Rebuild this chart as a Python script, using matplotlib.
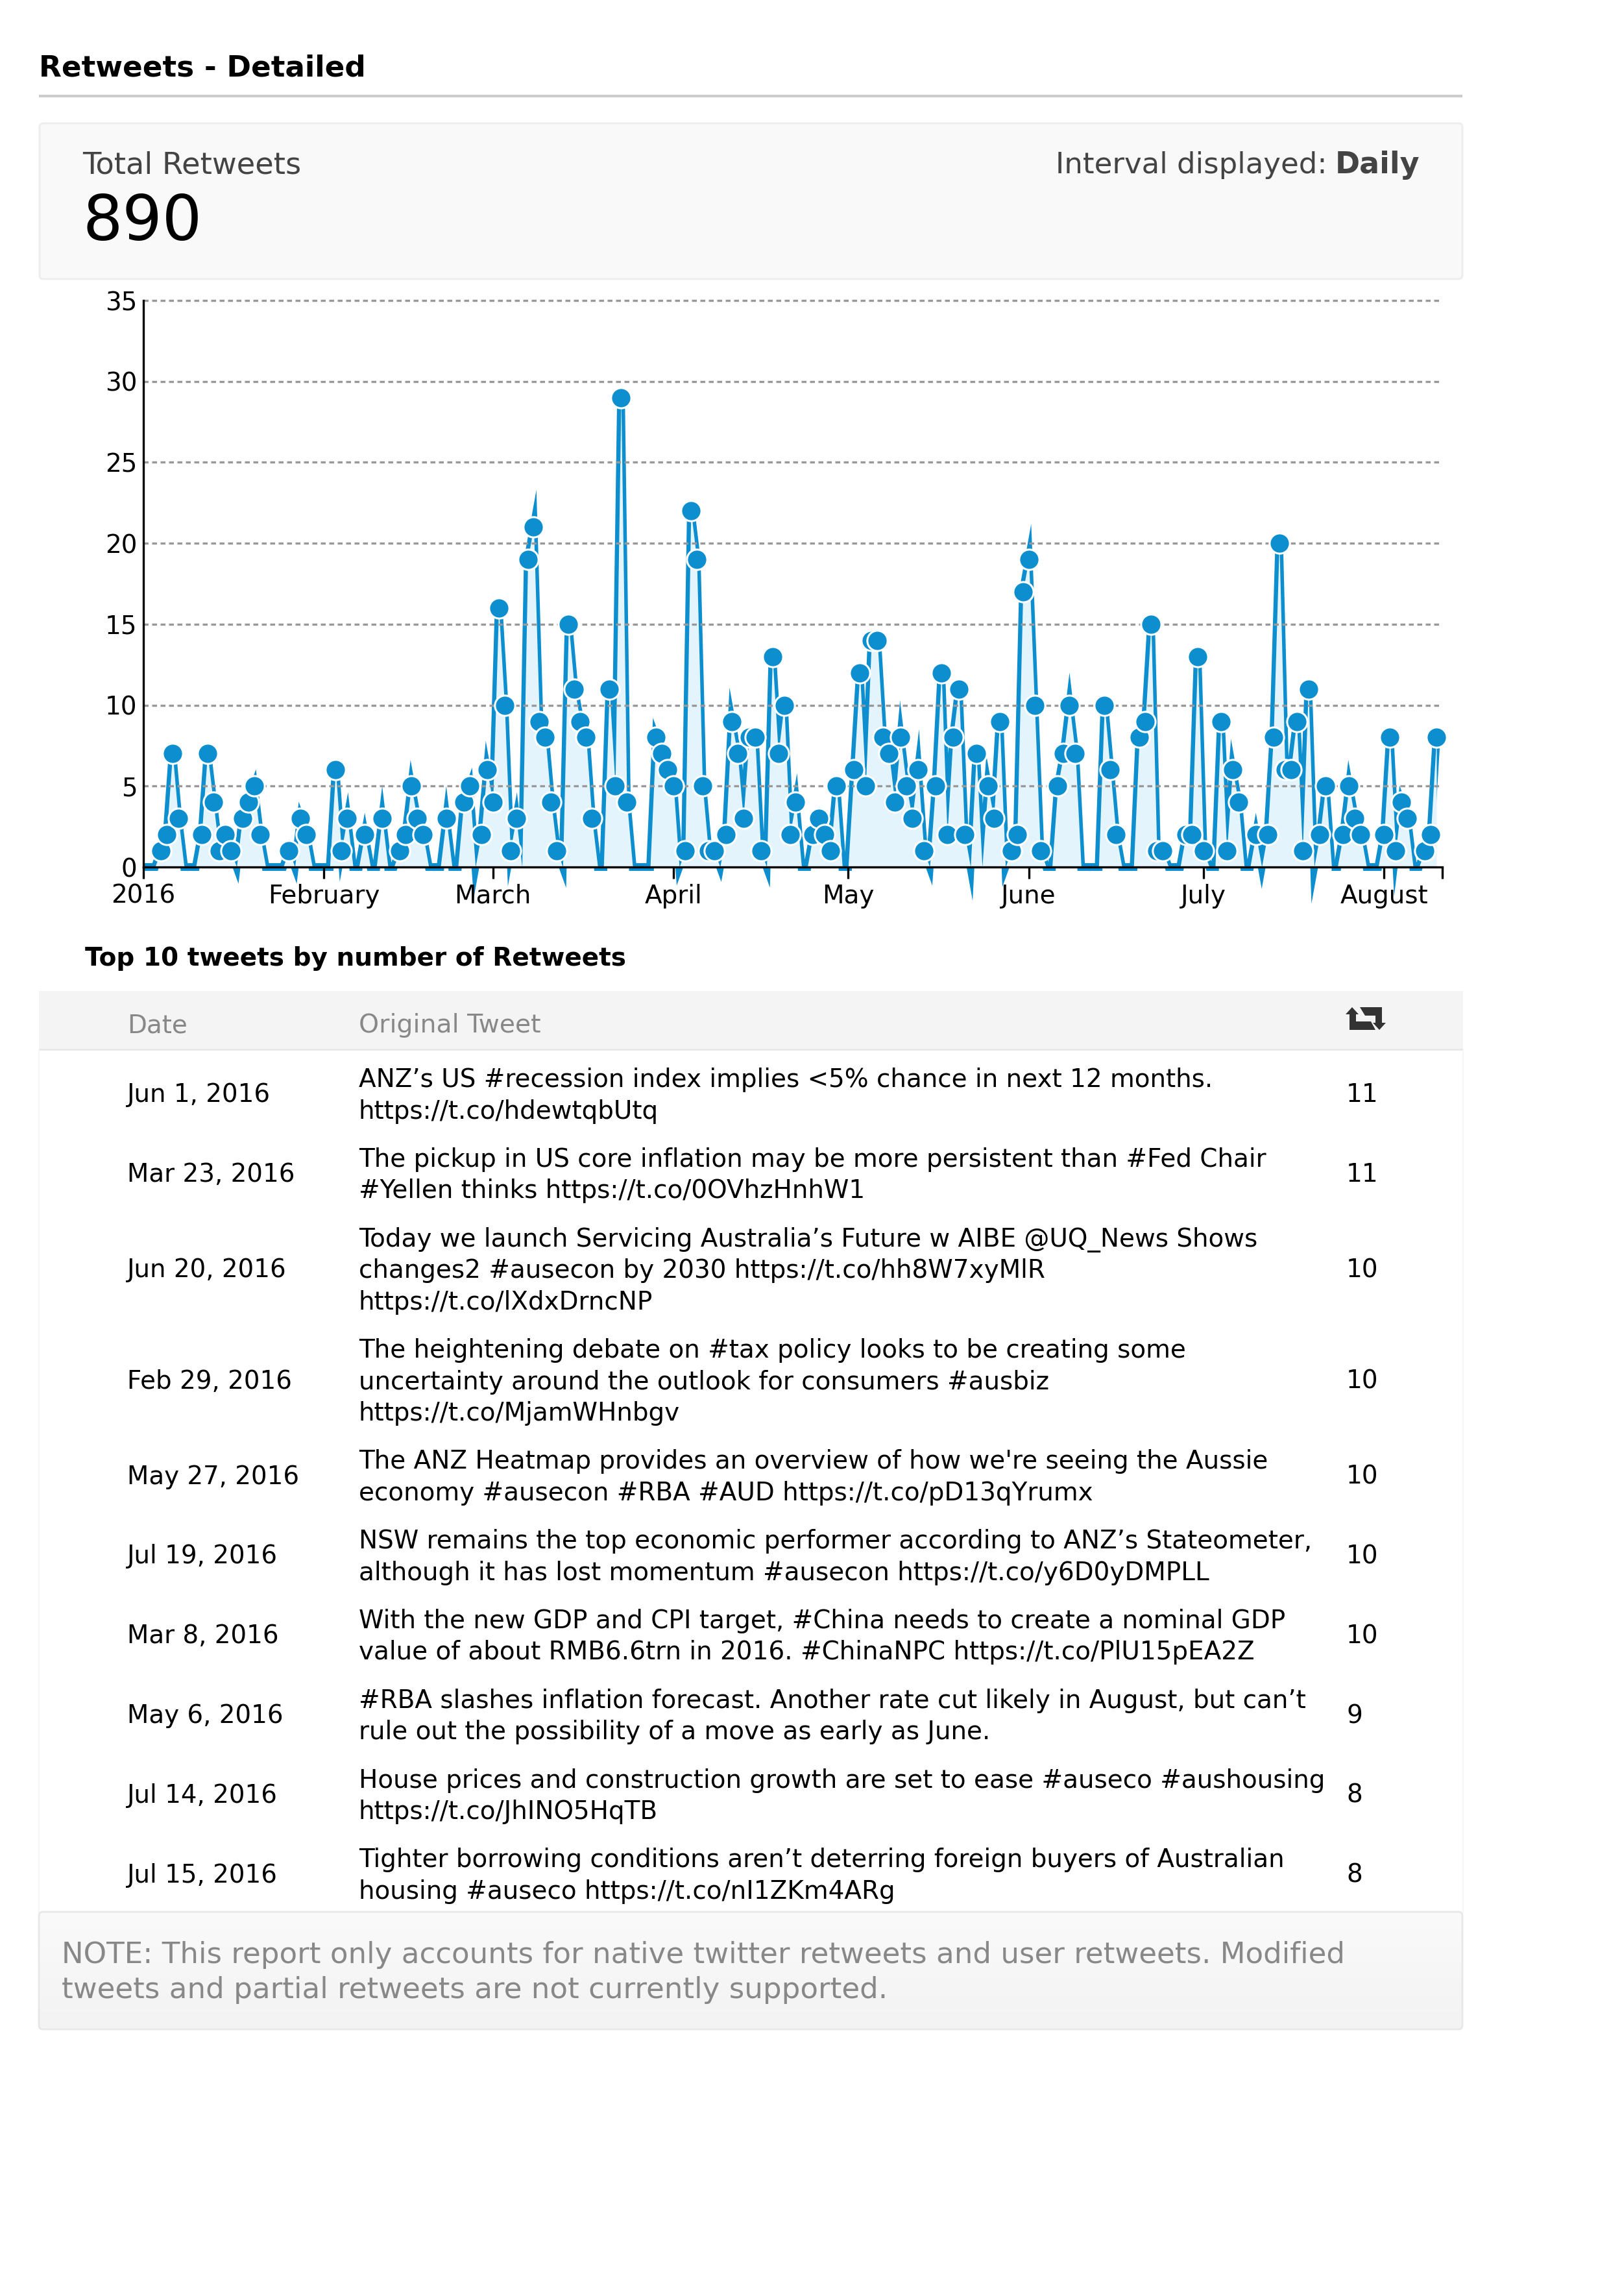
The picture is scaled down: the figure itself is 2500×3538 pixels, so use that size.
import matplotlib
matplotlib.use('Agg')
import matplotlib.pyplot as plt
from matplotlib.patches import FancyBboxPatch, Rectangle, Polygon
import numpy as np
import datetime as dt

plt.rcParams['font.family'] = ['DejaVu Sans']

W, H = 2500, 3538
DPI = 100

# daily retweets, from 2016-01-01
retweets = [0, 0, 0, 1, 2, 7, 3, 0, 0, 0, 2, 7, 4, 1, 2, 1, 0, 3, 4, 5, 2,
            0, 0, 0, 0, 1, 0, 3, 2, 0, 0, 0, 0, 6, 1, 3, 0, 0, 2, 0, 0, 3,
            0, 0, 1, 2, 5, 3, 2, 0, 0, 0, 3, 0, 0, 4, 5, 0, 2, 6, 4, 16, 10,
            1, 3, 0, 19, 21, 9, 8, 4, 1, 0, 15, 11, 9, 8, 3, 0, 0, 11, 5, 29,
            4, 0, 0, 0, 0, 8, 7, 6, 5, 0, 1, 22, 19, 5, 1, 1, 0, 2, 9, 7, 3,
            8, 8, 1, 0, 13, 7, 10, 2, 4, 0, 0, 2, 3, 2, 1, 5, 0, 0, 6, 12,
            5, 14, 14, 8, 7, 4, 8, 5, 3, 6, 1, 0, 5, 12, 2, 8, 11, 2, 0, 7, 0,
            5, 3, 9, 0, 1, 2, 17, 19, 10, 1, 0, 0, 5, 7, 10, 7, 0, 0, 0, 0, 10,
            6, 2, 0, 0, 0, 8, 9, 15, 1, 1, 0, 0, 0, 2, 2, 13, 1, 0, 0, 9, 1, 6,
            4, 0, 0, 2, 0, 2, 8, 20, 6, 6, 9, 1, 11, 0, 2, 5, 0, 0, 2, 5, 3, 2,
            0, 0, 0, 2, 8, 1, 4, 3, 0, 0, 1, 2, 8]
start_date = dt.date(2016, 1, 1)
month_ticks = [dt.date(2016, m, 1) for m in range(1, 9)]
month_labels = ['2016', 'February', 'March', 'April', 'May', 'June', 'July', 'August']
end_date = dt.date(2016, 8, 11)
y_ticks = [0, 5, 10, 15, 20, 25, 30, 35]

tweet_dates = ['Jun 1, 2016', 'Mar 23, 2016', 'Jun 20, 2016', 'Feb 29, 2016', 'May 27, 2016',
               'Jul 19, 2016', 'Mar 8, 2016', 'May 6, 2016', 'Jul 14, 2016', 'Jul 15, 2016']
tweet_counts = [11, 11, 10, 10, 10, 10, 10, 9, 8, 8]
tweet_texts = [
    ['ANZ\u2019s US #recession index implies <5% chance in next 12 months.', 'https://t.co/hdewtqbUtq'],
    ['The pickup in US core inflation may be more persistent than #Fed Chair', '#Yellen thinks https://t.co/0OVhzHnhW1'],
    ['Today we launch Servicing Australia\u2019s Future w AIBE @UQ_News Shows', 'changes2 #ausecon by 2030 https://t.co/hh8W7xyMlR', 'https://t.co/lXdxDrncNP'],
    ['The heightening debate on #tax policy looks to be creating some', 'uncertainty around the outlook for consumers #ausbiz', 'https://t.co/MjamWHnbgv'],
    ['The ANZ Heatmap provides an overview of how we\'re seeing the Aussie', 'economy #ausecon #RBA #AUD https://t.co/pD13qYrumx'],
    ['NSW remains the top economic performer according to ANZ\u2019s Stateometer,', 'although it has lost momentum #ausecon https://t.co/y6D0yDMPLL'],
    ['With the new GDP and CPI target, #China needs to create a nominal GDP', 'value of about RMB6.6trn in 2016. #ChinaNPC https://t.co/PlU15pEA2Z'],
    ['#RBA slashes inflation forecast. Another rate cut likely in August, but can\u2019t', 'rule out the possibility of a move as early as June.'],
    ['House prices and construction growth are set to ease #auseco #aushousing', 'https://t.co/JhINO5HqTB'],
    ['Tighter borrowing conditions aren\u2019t deterring foreign buyers of Australian', 'housing #auseco https://t.co/nI1ZKm4ARg'],
]
note_lines = ['NOTE: This report only accounts for native twitter retweets and user retweets. Modified',
              'tweets and partial retweets are not currently supported.']

BLUE = '#0d8ecf'
FILL = '#e4f4fd'

fig = plt.figure(figsize=(W / DPI, H / DPI), dpi=DPI, facecolor='white')

# page layer in pixel coordinates, for everything that is not the chart
page = fig.add_axes([0, 0, 1, 1])
page.set_xlim(0, W)
page.set_ylim(H, 0)
page.axis('off')


def box(x0, y0, x1, y1, face, edge='#eeeeee', lw=2.2):
    page.add_patch(FancyBboxPatch((x0 + 6, y0 + 6), x1 - x0 - 12, y1 - y0 - 12,
                                  boxstyle='round,pad=6,rounding_size=6',
                                  fc=face, ec=edge, lw=lw))


page.text(60, 117, 'Retweets - Detailed', fontsize=32.6, fontweight='bold', color='black')
page.plot([60, 2254], [148, 148], color='#cccccc', lw=3, solid_capstyle='butt')

box(61, 190, 2254, 430, '#f9f9f9')
page.text(127, 267, 'Total Retweets', fontsize=33.4, color='#444444')
page.text(127, 370, '890', fontsize=69.5, color='black')
daily = page.text(2188, 267, 'Daily', fontsize=33, fontweight='bold', color='#444444', ha='right')
fig.canvas.draw()
daily_x = daily.get_window_extent().x0
page.text(daily_x - 12, 267, 'Interval displayed:', fontsize=32.4, color='#444444', ha='right')

page.text(131, 1488, 'Top 10 tweets by number of Retweets', fontsize=28.1, fontweight='bold', color='black')

# table header
page.add_patch(Rectangle((60, 1527), 2195, 91, fc='#f4f4f4', ec='none'))
page.plot([60, 2255], [1617, 1617], color='#e8e8e8', lw=2, solid_capstyle='butt')
page.text(196, 1591, 'Date', fontsize=28, color='#888888')
page.text(553, 1591, 'Original Tweet', fontsize=28.4, color='#888888')

# retweet icon
icon_a = [(2074, 1563), (2084, 1552), (2094, 1563), (2090, 1563), (2090, 1574), (2113, 1574),
          (2120, 1587), (2080, 1587), (2080, 1563)]
icon_b = [(2136, 1576), (2126, 1587), (2116, 1576), (2120, 1576), (2120, 1565), (2104, 1565),
          (2096, 1552), (2130, 1552), (2130, 1576)]
page.add_patch(Polygon(icon_a, closed=True, fc='#333333', ec='none'))
page.add_patch(Polygon(icon_b, closed=True, fc='#333333', ec='none'))

# table rows
page.plot([60, 60], [1618, 2946], color='#f6f6f6', lw=1.5)
page.plot([2255, 2255], [1618, 2946], color='#f6f6f6', lw=1.5)
LINE_H = 48.5
row_top = 1624
for date, count, lines in zip(tweet_dates, tweet_counts, tweet_texts):
    row_h = len(lines) * LINE_H + 25.8
    mid = row_top + row_h / 2
    page.text(196, mid + 13, date, fontsize=27.9, color='black')
    page.text(2075, mid + 13, str(count), fontsize=28, color='black')
    y = mid - (len(lines) - 1) * LINE_H / 2
    for line in lines:
        page.text(553, y + 14, line, fontsize=28, color='black')
        y += LINE_H
    row_top += row_h

# note box, gradient background
grad = np.linspace(0, 1, 64).reshape(-1, 1)
note_bg = page.imshow(grad, extent=(60, 2254, 3127, 2946), aspect='auto', zorder=0,
                      cmap=matplotlib.colors.LinearSegmentedColormap.from_list('n', ['#fafafa', '#f3f3f3']))
page.set_xlim(0, W)
page.set_ylim(H, 0)
page.add_patch(FancyBboxPatch((66, 2952), 2182, 169, boxstyle='round,pad=6,rounding_size=6',
                              fc='none', ec='#e8e8e8', lw=2))
page.text(95, 3025, note_lines[0], fontsize=32.5, color='#888888')
page.text(95, 3079, note_lines[1], fontsize=32.5, color='#888888')

# chart
ax = fig.add_axes([221 / W, 1 - 1336 / H, (2223 - 221) / W, (1336 - 463) / H])
ax.patch.set_alpha(0)
days = [(d - start_date).days for d in month_ticks] + [(end_date - start_date).days]
x = np.arange(len(retweets))
y = np.array(retweets)
# the area sits on top of the stroke, so only its outer half shows
# split at days 11 and 203: the reference has no miter spike there, the marker hides the break
for px, py in zip(np.split(x, [12, 204]), np.split(y, [12, 204])):
    ax.plot(px, py, color=BLUE, lw=8.6, solid_joinstyle='miter', solid_capstyle='butt', zorder=1, clip_on=False)
for a, b in [(11, 12), (203, 204)]:
    ax.plot(x[a:b + 1], y[a:b + 1], color=BLUE, lw=8.6, solid_capstyle='butt', zorder=1, clip_on=False)
ax.fill_between(x, 0, y, color=FILL, lw=0, zorder=2)
for t in y_ticks[1:]:
    ax.plot([0, days[-1] - 0.5], [t, t], color='#999999', lw=2.4, dashes=(2.25, 1.65), zorder=3, clip_on=False)
mask = y > 0
ax.plot(x[mask], y[mask], ls='none', marker='o', ms=22.5, mfc=BLUE, mec='white', mew=2.2,
        zorder=4, clip_on=False)
ax.set_xlim(0, days[-1])
ax.set_ylim(0, 35)
ax.set_xticks(days)
ax.set_xticklabels(month_labels + [''])
ax.set_yticks(y_ticks)
ax.tick_params(axis='x', length=13, width=2.4, labelsize=28, pad=5.5, color='black')
ax.tick_params(axis='y', length=0, labelsize=28, pad=7)
for s in ['top', 'right']:
    ax.spines[s].set_visible(False)
for s in ['left', 'bottom']:
    ax.spines[s].set_linewidth(2.4)
    ax.spines[s].set_zorder(5)

fig.savefig('out.png', dpi=DPI, facecolor='white')
